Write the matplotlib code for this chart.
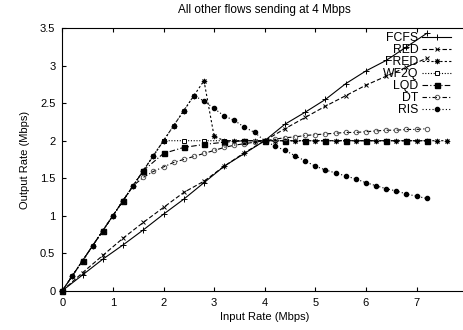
import numpy as np
import matplotlib.pyplot as plt

plt.rcParams['font.family'] = ['Liberation Sans', 'DejaVu Sans']
plt.rcParams['font.size'] = 8

# tasas de entrada (Mbps)
x_04 = [0, 0.4, 0.8, 1.2, 1.6, 2.0, 2.4, 2.8, 3.2, 3.6, 4.0, 4.4, 4.8,
        5.2, 5.6, 6.0, 6.4, 6.8, 7.2]
x_02 = [0, 0.2, 0.4, 0.6, 0.8, 1.0, 1.2, 1.4, 1.6, 1.8, 2.0, 2.2, 2.4,
        2.6, 2.8, 3.0, 3.2, 3.4, 3.6, 3.8, 4.0, 4.2, 4.4, 4.6, 4.8, 5.0,
        5.2, 5.4, 5.6, 5.8, 6.0, 6.2, 6.4, 6.6, 6.8, 7.0, 7.2]
x_fred = x_02 + [7.4, 7.6]

fcfs = [0, 0.21, 0.42, 0.61, 0.81, 1.02, 1.22, 1.44, 1.66, 1.83, 2.0, 2.22,
        2.38, 2.55, 2.76, 2.93, 3.07, 3.25, 3.43]
red = [0, 0.24, 0.47, 0.70, 0.91, 1.11, 1.31, 1.46, 1.66, 1.84, 2.0, 2.16,
       2.31, 2.46, 2.60, 2.74, 2.86, 2.98, 3.10]
wf2q = [0, 0.4, 0.8, 1.2, 1.6, 2.0, 2.0, 2.0, 2.0, 2.0, 2.0, 2.0, 2.0,
        2.0, 2.0, 2.0, 2.0, 2.0, 2.0]
lqd = [0, 0.4, 0.8, 1.2, 1.6, 1.83, 1.91, 1.95, 1.98, 2.0, 2.0, 2.0, 2.0,
       2.0, 2.0, 2.0, 2.0, 2.0, 2.0]
fred = [0, 0.2, 0.4, 0.6, 0.8, 1.0, 1.2, 1.4, 1.6, 1.8, 2.0, 2.2, 2.4,
        2.6, 2.8, 2.06, 2.0, 2.0, 2.0, 2.0, 2.0, 2.0, 2.0, 2.0, 2.0, 2.0,
        2.0, 2.0, 2.0, 2.0, 2.0, 2.0, 2.0, 2.0, 2.0, 2.0, 2.0, 2.0, 2.0]
dt = [0, 0.2, 0.4, 0.6, 0.8, 1.0, 1.2, 1.4, 1.51, 1.59, 1.65, 1.71, 1.75,
      1.79, 1.83, 1.87, 1.91, 1.94, 1.96, 1.98, 2.0, 2.02, 2.04, 2.05, 2.07,
      2.08, 2.09, 2.10, 2.11, 2.11, 2.12, 2.13, 2.14, 2.14, 2.15, 2.15, 2.16]
ris = [0, 0.2, 0.4, 0.6, 0.8, 1.0, 1.2, 1.4, 1.6, 1.8, 2.0, 2.2, 2.4,
       2.6, 2.53, 2.43, 2.33, 2.27, 2.18, 2.11, 2.0, 1.93, 1.87, 1.80, 1.73,
       1.66, 1.61, 1.57, 1.53, 1.49, 1.44, 1.40, 1.36, 1.33, 1.29, 1.26, 1.23]

yticks = [0, 0.5, 1, 1.5, 2, 2.5, 3, 3.5]
ytick_labels = ['0', '0.5', '1', '1.5', '2', '2.5', '3', '3.5']

fig = plt.figure(figsize=(4.64, 3.30), dpi=100)
ax = fig.add_axes([62.3 / 464, 39.3 / 330, 404.8 / 464, 262.5 / 330])

lw = 0.8
ax.plot(x_04, fcfs, '-', color='black', lw=lw, marker='+', ms=4, mew=0.7,
        label='FCFS', clip_on=False)
ax.plot(x_04, red, color='black', lw=lw, ls=(0, (4, 2)), marker='x', ms=3.2,
        mew=0.7, label='RED', clip_on=False)
ax.plot(x_fred, fred, color='black', lw=lw, ls=(0, (2, 2)), marker=(8, 2, 0),
        ms=3.8, mew=0.7, label='FRED', clip_on=False)
ax.plot(x_04, wf2q, color='black', lw=lw, ls=(0, (1, 1.5)), marker='s',
        ms=3.2, mfc='white', mew=0.7, label='WF2Q', clip_on=False)
ax.plot(x_04, lqd, color='black', lw=lw, ls=(0, (5, 2, 1, 2)), marker='s',
        ms=3.6, label='LQD', clip_on=False)
ax.plot(x_02, dt, color='black', lw=lw, ls=(0, (4, 2, 1, 2)), marker='o',
        ms=3.2, mfc='none', mec='#555555', mew=0.7, label='DT', clip_on=False)
ax.plot(x_02, ris, color='black', lw=lw, ls=(0, (1, 2)), marker='o',
        ms=3, label='RIS', clip_on=False)

ax.set_xlim(0, 8)
ax.set_ylim(0, 3.5)
ax.set_xticks(range(0, 8))
ax.set_yticks(yticks)
ax.set_yticklabels(ytick_labels)
ax.tick_params(direction='in', top=True, right=True, length=3, width=0.8,
               pad=5)
for s in ax.spines.values():
    s.set_linewidth(0.8)

ax.set_xlabel('Input Rate (Mbps)', labelpad=3)
ax.set_ylabel('Output Rate (Mbps)', labelpad=7)
ax.set_title('All other flows sending at 4 Mbps', fontsize=8.5, pad=11)

ax.legend(loc='upper right', bbox_to_anchor=(0.97, 1.0), frameon=False,
          markerfirst=False, alignment='right', fontsize=8.8,
          handlelength=2.4, handletextpad=0.3, labelspacing=0.0,
          borderpad=0.3, borderaxespad=0)

fig.savefig('out.png', dpi=100)
